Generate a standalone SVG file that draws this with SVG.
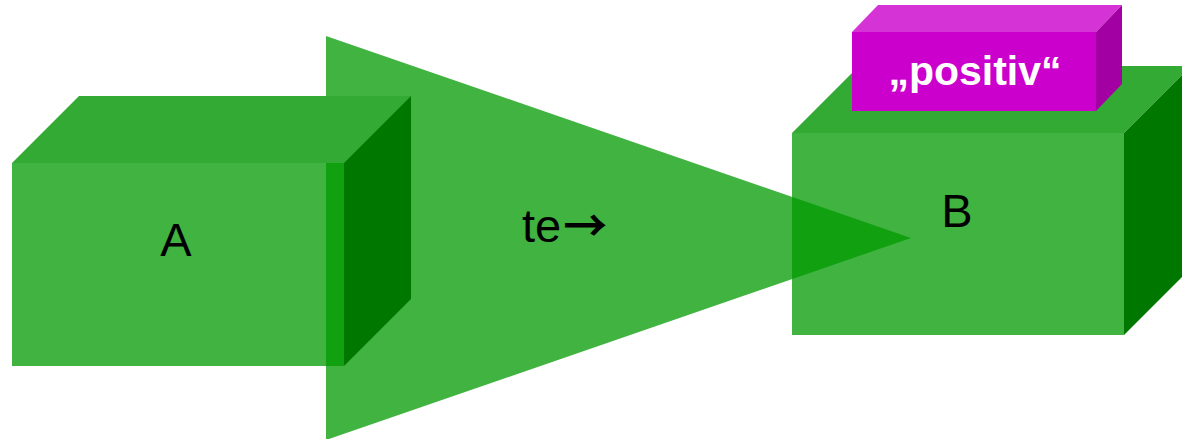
<svg xmlns="http://www.w3.org/2000/svg" width="1182" height="439" viewBox="0 0 1182 439">
  <style>
    .front { fill: #009900; fill-opacity: 0.75; }
    .top { fill: #33aa33; }
    .side { fill: #007800; }
    .mfront { fill: #cc00cc; }
    .mtop { fill: #d633d6; }
    .mside { fill: #a300a3; }
    .lbl { font-family: "Liberation Sans", Arial, sans-serif; font-size: 47px; fill: #000000; }
    .arr { font-family: "Noto Sans CJK JP", "DejaVu Sans", sans-serif; font-size: 44px; font-weight: bold; }
    .tag { font-family: "Liberation Sans", Arial, sans-serif; font-size: 41px; font-weight: bold; fill: #ffffff; }
  </style>
  <rect width="1182" height="439" fill="#ffffff"/>
  <g id="connectors">
    <polygon points="326,36 911,238 326,440" fill="#009900" fill-opacity="0.75"/>
    <text class="lbl" x="522" y="242">te<tspan class="arr" dx="2">→</tspan></text>
  </g>
  <g id="nodeA">
    <polygon class="top" points="12,163 79,96 411,96 344,163"/>
    <polygon class="side" points="344,163 411,96 411,299 344,366"/>
    <rect class="front" x="12" y="163" width="332" height="203"/>
    <text class="lbl" x="176" y="256" text-anchor="middle">A</text>
  </g>
  <g id="nodeB">
    <polygon class="top" points="792,133 859,66 1191,66 1124,133"/>
    <polygon class="side" points="1124,133 1191,66 1191,268 1124,335"/>
    <rect class="front" x="792" y="133" width="332" height="202"/>
    <text class="lbl" x="957" y="227" text-anchor="middle">B</text>
  </g>
  <g id="tagPositiv">
    <polygon class="mtop" points="852,32 878,5 1122,5 1096,32"/>
    <polygon class="mside" points="1096,32 1122,5 1122,84 1096,111"/>
    <rect class="mfront" x="852" y="32" width="244" height="79"/>
    <text class="tag" x="975" y="85" text-anchor="middle">„positiv“</text>
  </g>
</svg>
